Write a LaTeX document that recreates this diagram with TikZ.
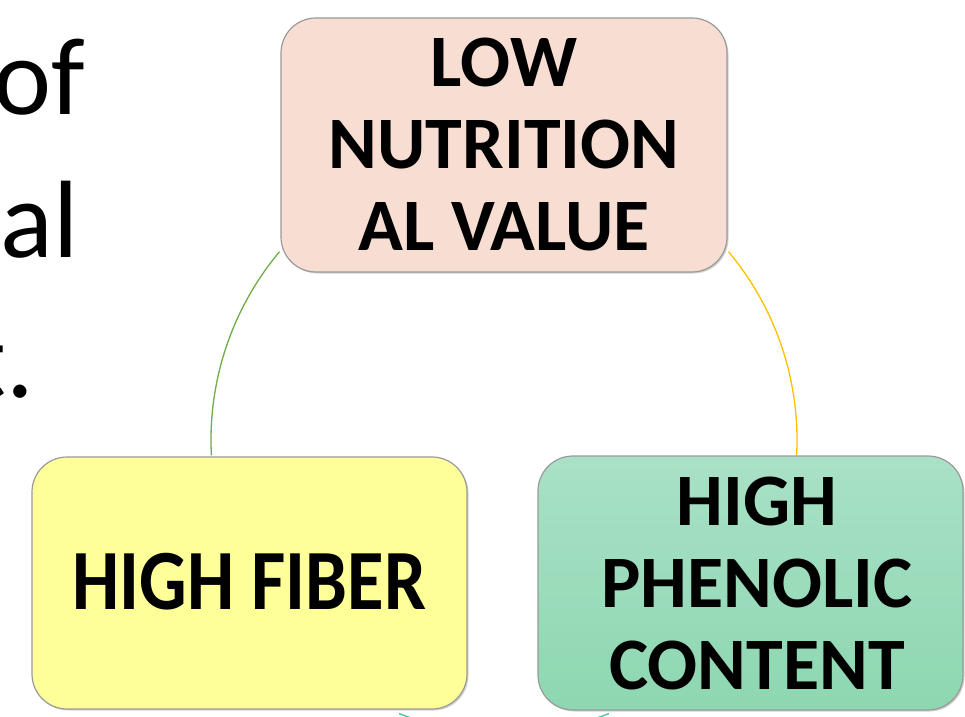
\documentclass[tikz,border=0pt]{standalone}
\usepackage{fontspec}
\setmainfont{Carlito}
\usetikzlibrary{shadows}
\definecolor{peach}{HTML}{F8DED2}
\definecolor{lemon}{HTML}{FFFF99}
\definecolor{mintT}{HTML}{A9E1C6}
\definecolor{mintB}{HTML}{8DD7B1}
\definecolor{arcgreen}{HTML}{70AD47}
\definecolor{arcgold}{HTML}{FFC000}
\definecolor{arcteal}{HTML}{3CC89C}
\definecolor{boxline}{HTML}{9A9A9A}
\tikzset{
  cyclebox/.style={draw=boxline, line width=1.2pt, rounded corners=35pt, inner sep=0pt,
    align=center, font=\fontsize{74}{82}\selectfont\bfseries,
    drop shadow={shadow xshift=1.5pt, shadow yshift=-1.5pt, opacity=0.35, fill=gray}},
  cyclearc/.style={line width=1.3pt},
  sidetext/.style={inner sep=0pt, font=\fontsize{110}{140}\selectfont}
}
\begin{document}
\begin{tikzpicture}[x=1pt,y=1pt]
\useasboundingbox (0,0) rectangle (965,716);
\clip (0,0) rectangle (965,716);
\fill[white] (0,0) rectangle (965,716);
\coordinate (c) at (504,276);
% cycle arcs
\draw[cyclearc, arcgreen] (c) ++(140:293) arc[start angle=140, end angle=183, radius=293];
\draw[cyclearc, arcgold] (c) ++(40:293) arc[start angle=40, end angle=-3, radius=293];
\draw[cyclearc, arcteal] (c) ++(-69:293) arc[start angle=-69, end angle=-111, radius=293];
% boxes
\node[cyclebox, fill=peach, minimum width=446pt, minimum height=254pt] (top) at (504,571)
  {LOW\\NUTRITION\\AL VALUE};
\node[cyclebox, fill=lemon, minimum width=435pt, minimum height=252pt] (left) at (249.5,133)
  {\raisebox{3pt}{\scalebox{1.01}[1.16]{HIGH FIBER}}};
\node[cyclebox, top color=mintT, bottom color=mintB, minimum width=425pt, minimum height=254pt] (right) at (750.5,133)
  {\hspace*{13pt}HIGH\\\hspace*{13pt}PHENOLIC\\\hspace*{13pt}CONTENT};
% partial side text
\node[sidetext, anchor=base east] (t1) at (85,601) {of};
\node[sidetext, anchor=base east] (t2) at (79,459) {al};
\node[sidetext, anchor=base east] (t3) at (34,319) {t.};
\end{tikzpicture}
\end{document}
